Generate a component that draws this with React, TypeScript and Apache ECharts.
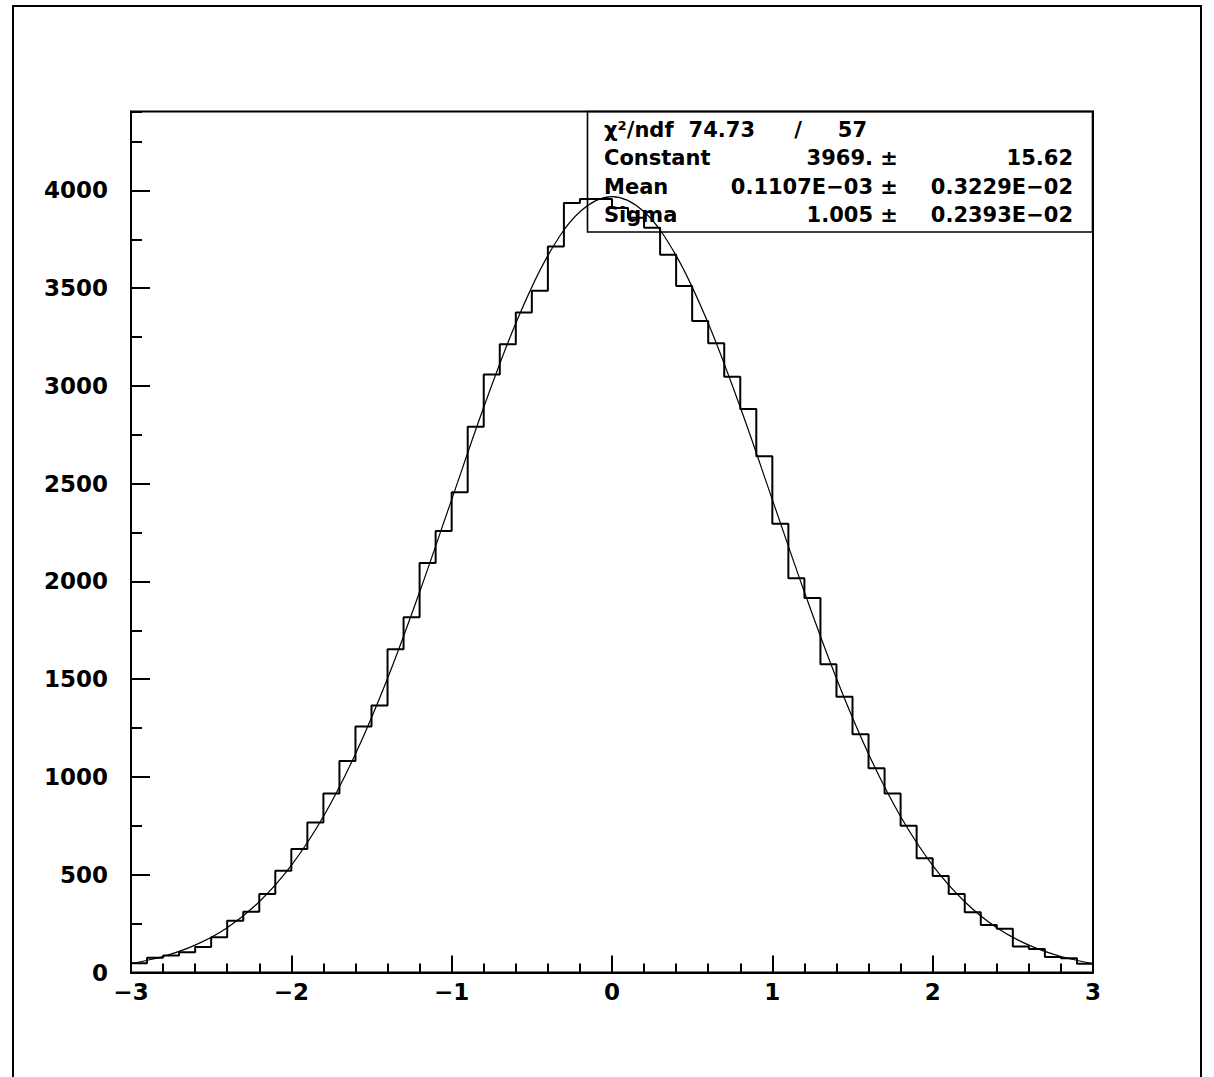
import React, { useEffect, useRef } from "react";
import * as echarts from "echarts";

// Histogram: 60 bins from -3 to 3
const binLow = -3;
const binWidth = 0.1;
const counts = [
  47, 76, 87, 104, 130, 180, 265, 311, 402, 521,
  632, 767, 915, 1082, 1258, 1366, 1654, 1817, 2094, 2258,
  2456, 2791, 3059, 3213, 3376, 3487, 3714, 3936, 3956, 3956,
  3910, 3860, 3810, 3671, 3512, 3332, 3218, 3047, 2882, 2640,
  2295, 2017, 1915, 1577, 1411, 1219, 1045, 916, 750, 584,
  494, 402, 308, 243, 224, 133, 120, 79, 73, 45,
];

// Fitted gaussian curve
const fitX = [
  -3.0, -2.8, -2.6, -2.4, -2.2, -2.0, -1.8, -1.6, -1.4, -1.2, -1.0,
  -0.8, -0.6, -0.4, -0.2, 0.0, 0.2, 0.4, 0.6, 0.8, 1.0,
  1.2, 1.4, 1.6, 1.8, 2.0, 2.2, 2.4, 2.6, 2.8, 3.0,
];
const fitY = [
  46, 82, 140, 229, 362, 548, 798, 1118, 1504, 1946, 2419,
  2891, 3321, 3667, 3891, 3969, 3891, 3667, 3321, 2891, 2419,
  1946, 1504, 1118, 798, 548, 362, 229, 140, 82, 46,
];

const xTicks = { min: -3, max: 3, major: 1, minorSplit: 5 };
const yTicks = { min: 0, max: 4404, major: 500, minor: 250 };

const statsRows = [
  { name: "χ²/ndf", value: "74.73", sep: "/", error: "57" },
  { name: "Constant", value: "3969.", sep: "±", error: "15.62" },
  { name: "Mean", value: "0.1107E−03", sep: "±", error: "0.3229E−02" },
  { name: "Sigma", value: "1.005", sep: "±", error: "0.2393E−02" },
];

const W = 1214;
const H = 1077;

function fmtNum(v: number): string {
  if (v < 0) return "\u2212" + String(-v);
  return String(v);
}

export default function App() {
  const ref = useRef<HTMLDivElement>(null);

  useEffect(() => {
    document.body.style.margin = "0";
    if (!ref.current) return;
    const chart = echarts.init(ref.current, null, { renderer: "svg" });

    const histData: [number, number][] = counts.map((c, i) => [
      Math.round((binLow + i * binWidth) * 10) / 10,
      c,
    ]);
    histData.push([
      Math.round((binLow + counts.length * binWidth) * 10) / 10,
      counts[counts.length - 1],
    ]);
    const fitData = fitX.map((x, i) => [x, fitY[i]]);

    const labelFont = {
      fontFamily: "DejaVu Sans",
      fontWeight: "bold" as const,
      fontSize: 23,
      color: "#000",
    };
    const statFont = 'bold 21px "DejaVu Sans"';

    const rowY = [130, 158, 186.5, 215];
    const graphics: any[] = [
      {
        type: "rect",
        shape: { x: 13, y: 6, width: 1188, height: 1090 },
        style: { fill: "none", stroke: "#000", lineWidth: 2 },
        silent: true,
      },
      {
        type: "rect",
        shape: { x: 587.5, y: 111.5, width: 505, height: 120.5 },
        style: { fill: "none", stroke: "#000", lineWidth: 1.6 },
        silent: true,
        z: 10,
      },
    ];
    statsRows.forEach((r, i) => {
      const y = rowY[i];
      const isFirst = i === 0;
      graphics.push({
        type: "text",
        style: { text: r.name, x: 604, y, font: statFont, fill: "#000", textAlign: "left", textVerticalAlign: "middle" },
        z: 10,
      });
      graphics.push({
        type: "text",
        style: { text: r.value, x: isFirst ? 755 : 873, y, font: statFont, fill: "#000", textAlign: "right", textVerticalAlign: "middle" },
        z: 10,
      });
      graphics.push({
        type: "text",
        style: { text: r.sep, x: isFirst ? 798 : 889, y, font: statFont, fill: "#000", textAlign: "center", textVerticalAlign: "middle" },
        z: 10,
      });
      graphics.push({
        type: "text",
        style: { text: r.error, x: isFirst ? 867 : 1073, y, font: statFont, fill: "#000", textAlign: "right", textVerticalAlign: "middle" },
        z: 10,
      });
    });

    chart.setOption({
      animation: false,
      backgroundColor: "#fff",
      grid: {
        left: 131,
        top: 111.5,
        width: 962,
        height: 861,
        show: true,
        borderColor: "#000",
        borderWidth: 2,
        backgroundColor: "transparent",
      },
      xAxis: [
        {
          type: "value",
          min: xTicks.min,
          max: xTicks.max,
          interval: xTicks.major,
          position: "bottom",
          axisLine: { show: true, onZero: false, lineStyle: { color: "#000", width: 2 } },
          axisTick: { show: true, inside: true, length: 17, lineStyle: { color: "#000", width: 2 } },
          minorTick: { show: true, splitNumber: xTicks.minorSplit, length: 9, lineStyle: { color: "#000", width: 2 } },
          splitLine: { show: false },
          minorSplitLine: { show: false },
          axisLabel: { ...labelFont, margin: 8, lineHeight: 23, formatter: (v: number) => fmtNum(v) },
        },
      ],
      yAxis: [
        {
          type: "value",
          min: yTicks.min,
          max: yTicks.max,
          interval: yTicks.major,
          position: "left",
          axisLine: { show: true, onZero: false, lineStyle: { color: "#000", width: 2 } },
          axisTick: { show: true, inside: true, length: 19, lineStyle: { color: "#000", width: 2 } },
          splitLine: { show: false },
          axisLabel: { ...labelFont, margin: 23, showMaxLabel: false, formatter: (v: number) => fmtNum(v) },
        },
        {
          type: "value",
          min: yTicks.min,
          max: yTicks.max,
          interval: yTicks.minor,
          position: "left",
          offset: 0,
          axisLine: { show: false, onZero: false },
          axisTick: { show: true, inside: true, length: 11, lineStyle: { color: "#000", width: 2 } },
          splitLine: { show: false },
          axisLabel: { show: false },
        },
      ],
      series: [
        {
          type: "line",
          name: "hist",
          xAxisIndex: 0,
          yAxisIndex: 0,
          step: "end",
          data: histData,
          symbol: "none",
          lineStyle: { color: "#000", width: 2 },
          z: 3,
        },
        {
          type: "line",
          name: "fit",
          xAxisIndex: 0,
          yAxisIndex: 0,
          smooth: 0.35,
          data: fitData,
          symbol: "none",
          lineStyle: { color: "#000", width: 1.2 },
          z: 4,
        },
      ],
      graphic: graphics,
    });

    return () => chart.dispose();
  }, []);

  return (
    <div
      ref={ref}
      style={{ position: "absolute", left: 0, top: 0, width: W, height: H, background: "#fff", overflow: "hidden" }}
    />
  );
}
